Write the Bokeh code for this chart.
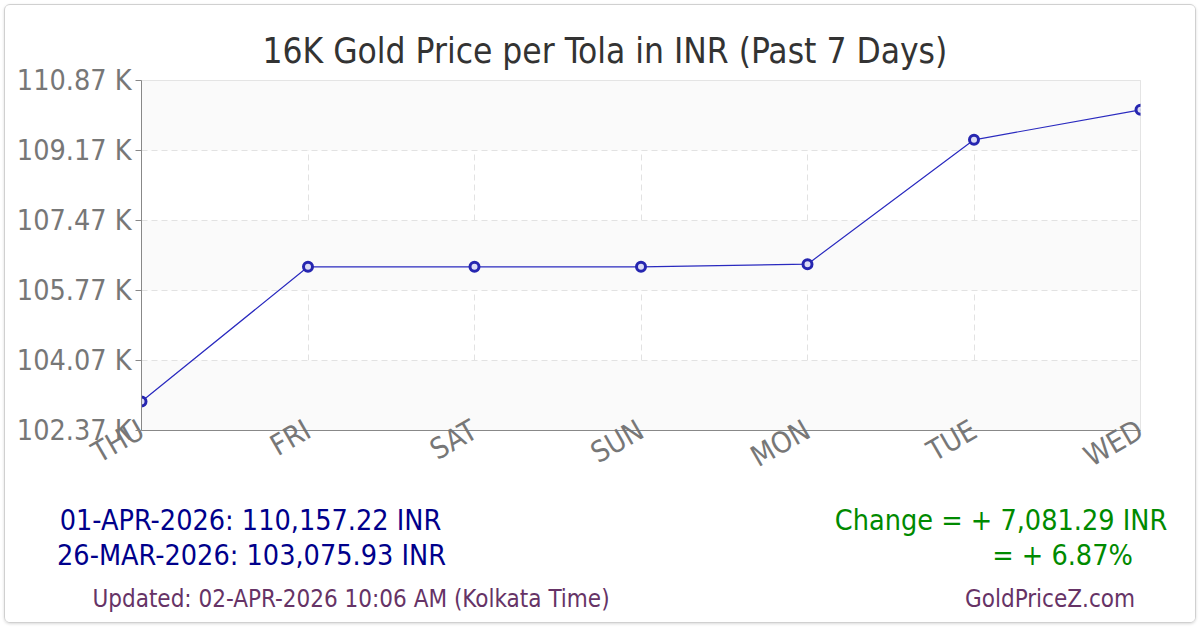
from bokeh.plotting import figure
from bokeh.models import Range1d, FixedTicker, Title
from bokeh.layouts import column
from bokeh.core.properties import value
from bokeh.embed import file_html
from bokeh.resources import INLINE
import math

# ---- data ----
days = ["THU", "FRI", "SAT", "SUN", "MON", "TUE", "WED"]
prices = [103075.93, 106345.0, 106345.0, 106345.0, 106410.0, 109430.0, 110157.22]
y_ticks = [102370, 104070, 105770, 107470, 109170, 110870]
y_tick_labels = ["102.37 K", "104.07 K", "105.77 K", "107.47 K", "109.17 K", "110.87 K"]
title_text = "16K Gold Price per Tola in INR (Past 7 Days)"
footer_texts = ["01-APR-2026: 110,157.22 INR", "26-MAR-2026: 103,075.93 INR",
                "Change = + 7,081.29 INR", "= + 6.87%",
                "Updated: 02-APR-2026 10:06 AM (Kolkata Time)", "GoldPriceZ.com"]

FONT = "DejaVu Sans Condensed"
OX, OY = 5, 5            # page offset of the card
W = 1190
SPLIT = 505               # page y where the footer starts
H1 = SPLIT - OY
H2 = 622 - SPLIT
FL, FT, FR, FB = 141, 80, 1140, 430   # frame edges on the page

p = figure(width=W, height=H1, output_backend="svg", toolbar_location=None,
           x_range=Range1d(0, len(days) - 1), y_range=Range1d(y_ticks[0], y_ticks[-1]),
           min_border_left=FL - OX, min_border_top=FT - OY,
           min_border_right=W - (FR - OX), min_border_bottom=H1 - (FB - OY))
p.background_fill_color = "white"
p.border_fill_color = "white"
p.outline_line_color = "#dddddd"

t = Title(text=title_text, align="left", text_font=FONT, text_font_size="35px",
          text_color="#333333", text_font_style="normal", offset=262 - FL, standoff=20)
p.add_layout(t, "above")

x = list(range(len(days)))

# axes
p.yaxis.ticker = FixedTicker(ticks=y_ticks)
p.yaxis.major_label_overrides = {tk: l for tk, l in zip(y_ticks, y_tick_labels)}
p.xaxis.ticker = FixedTicker(ticks=x)
p.xaxis.major_label_overrides = {i: d for i, d in zip(x, days)}
p.xaxis.major_label_orientation = math.pi / 6
for ax in (p.xaxis, p.yaxis):
    ax.axis_line_color = "#888888"
    ax.minor_tick_line_color = None
    ax.major_label_text_font = FONT
    ax.major_label_text_color = "#777777"
p.yaxis.major_label_text_font_size = "28.5px"
p.xaxis.major_label_text_font_size = "29px"
p.yaxis.major_tick_in = 0
p.yaxis.major_tick_out = 6
p.yaxis.major_tick_line_color = "#888888"
p.yaxis.major_label_standoff = 4
p.xaxis.major_tick_in = 0
p.xaxis.major_tick_out = 0
p.xaxis.major_label_standoff = -3

# grid: a second tick just above the bottom shifts the band parity
p.ygrid.ticker = FixedTicker(ticks=[y_ticks[0], y_ticks[0] + 1] + y_ticks[1:])
p.ygrid.grid_line_color = "#e2e2e2"
p.ygrid.grid_line_dash = "6 4"
p.ygrid.band_fill_color = "#fafafa"
p.ygrid.band_fill_alpha = 1
p.xgrid.grid_line_color = "#e2e2e2"
p.xgrid.grid_line_dash = "6 4"

# series
p.line(x, prices, line_color="#2a2abf", line_width=1.2)
p.scatter(x, prices, size=9, marker="circle", fill_color="#dcdcf5",
          line_color="#2626b0", line_width=3)

# footer (coordinates are page pixels)
f = figure(width=W, height=H2, output_backend="svg", toolbar_location=None,
           x_range=Range1d(OX, OX + W), y_range=Range1d(SPLIT + H2, SPLIT),
           x_axis_type=None, y_axis_type=None,
           min_border_left=0, min_border_right=0, min_border_top=0, min_border_bottom=0)
f.outline_line_color = None
f.background_fill_color = "white"
f.border_fill_color = "white"
f.xgrid.visible = False
f.ygrid.visible = False

fx = [250, 251, 1000.5, 1062, 350.5, 1049.5]
fy = [520, 555, 520, 555, 598, 598]
fcol = ["#00008b", "#00008b", "#008a00", "#008a00", "#663366", "#663366"]
fsize = ["28.5px", "28.5px", "28.5px", "28.5px", "24px", "24px"]
f.text(x=fx, y=fy, text=footer_texts, text_color=fcol, text_font_size=fsize,
       text_font=value(FONT), text_align="center", text_baseline="middle")

layout = column(p, column(f), spacing=0)
layout.styles = {"margin-left": f"{OX - 1}px", "margin-top": f"{OY - 1}px",
                 "border": "1px solid #d0d0d0", "border-radius": "6px",
                 "box-shadow": "0 1px 3px rgba(0,0,0,0.15)", "overflow": "hidden"}

open("out.html", "w").write(file_html(layout, INLINE))
